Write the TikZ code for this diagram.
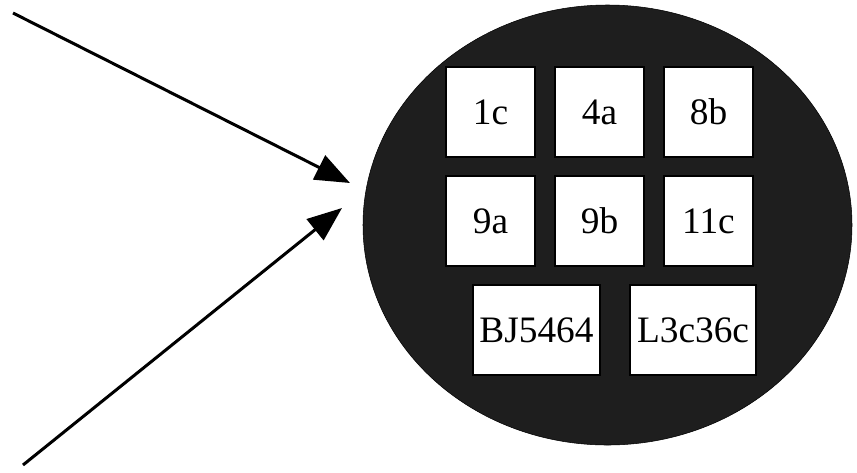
\documentclass[tikz,border=0pt]{standalone}
\usepackage{fontspec}
\setmainfont{Liberation Serif}
\usetikzlibrary{shapes.geometric, arrows.meta, positioning}
\definecolor{dishgray}{HTML}{1E1E1E}

\begin{document}
\begin{tikzpicture}[x=0.75pt, y=-0.75pt, >={Triangle[length=26pt, width=20pt]}, node distance=81.75pt]
            \useasboundingbox (0,0) rectangle (857,472);
            \tikzset{
                dish/.style={draw=black, fill=dishgray, ellipse, inner sep=0pt,
                    minimum width=366.75pt, minimum height=330pt},
                strain/.style={draw=black, fill=white, line width=1.5pt, rectangle,
                    minimum width=67pt, minimum height=67pt, inner sep=0pt,
                    font=\fontsize{28}{30}\selectfont},
                widestrain/.style={strain, minimum width=95pt}
            }
            % 培养皿
            \node[dish] (dish) at (607.5,225) {};
            % 菌株
            \node[strain] (s1c) at (490.5,112) {1c};
            \node[strain, right of=s1c] (s4a) {4a};
            \node[strain, right of=s4a] (s8b) {8b};
            \node[strain, below of=s1c] (s9a) {9a};
            \node[strain, right of=s9a] (s9b) {9b};
            \node[strain, right of=s9b] (s11c) {11c};
            \node[widestrain] (bj) at (536.5,330) {BJ5464};
            \node[widestrain, right of=bj, node distance=117.4pt] (l3c) {L3c36c};
            % 箭头
            \coordinate (src1) at (13,13);
            \coordinate (hit1) at (350,183);
            \coordinate (src2) at (23,465);
            \coordinate (hit2) at (342,208);
            \draw[->, line width=2.25pt] (src1) -- (hit1);
            \draw[->, line width=2.25pt] (src2) -- (hit2);
        \end{tikzpicture}
\end{document}
